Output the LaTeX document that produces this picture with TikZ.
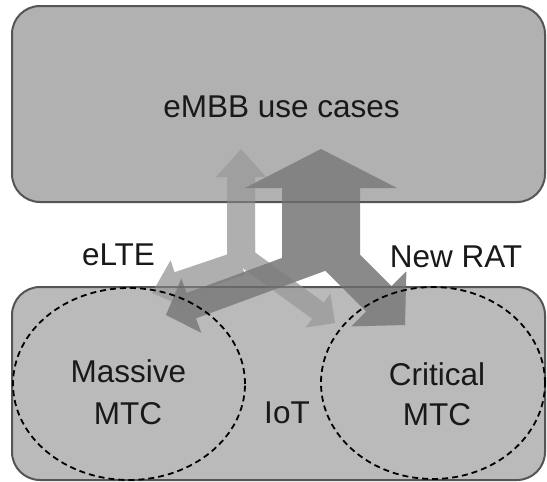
\documentclass[tikz,border=0pt]{standalone}
\usepackage{fontspec}
\setmainfont{Liberation Sans}
\usetikzlibrary{calc}
\definecolor{topfill}{RGB}{177,177,177}
\definecolor{botfill}{RGB}{186,186,186}
\definecolor{boxline}{RGB}{85,85,85}
\definecolor{lightarr}{RGB}{155,155,155}
\definecolor{darkarr}{RGB}{126,126,126}
\definecolor{txt}{RGB}{25,25,25}
% #1 start, #2 tip, #3 half shaft width, #4 half head width, #5 head length
\newcommand\blockarr[5]{%
  \coordinate (S) at #1; \coordinate (T) at #2;
  \coordinate (H) at ($(T)!#5!(S)$);
  \fill ($(S)!#3!90:(T)$) -- ($(H)!#3!90:(T)$) -- ($(H)!#4!90:(T)$) -- (T)
     -- ($(H)!#4!-90:(T)$) -- ($(H)!#3!-90:(T)$) -- ($(S)!#3!-90:(T)$) -- cycle;}
\begin{document}
\begin{tikzpicture}[x=1pt,y=-1pt,
  box/.style={draw=boxline,line width=2pt,rounded corners=28pt},
  zone/.style={draw=black,line width=1.8pt,dash pattern=on 6pt off 4pt},
  lbl/.style={font=\fontsize{31.5}{36}\selectfont,text=txt,anchor=base,inner sep=0pt}]
\useasboundingbox (0,0) rectangle (547,482);
\fill[white] (0,0) rectangle (547,482);
% boxes
\path[box,fill=topfill] (12,6) rectangle (545,202);
\path[box,fill=botfill] (12,287) rectangle (545,480);
\node[lbl] (embb) at (281.5,117) {eMBB use cases};
% light (eLTE) arrows
\begin{scope}[transparency group,opacity=0.8]
  \fill[lightarr] (227,262) rectangle (255,240);
  \begin{scope}[fill=lightarr]
  \blockarr{(241,262)}{(241,149)}{14pt}{25pt}{28pt}
  \blockarr{(241,263)}{(152,293)}{12.5pt}{25pt}{28pt}
  \blockarr{(243,256)}{(335,323)}{10pt}{21pt}{21pt}
  \end{scope}
\end{scope}
% dark (New RAT) arrows
\begin{scope}[transparency group,opacity=0.9]
  \begin{scope}[fill=darkarr]
  \blockarr{(321,262)}{(321,149)}{39pt}{76pt}{39pt}
  \blockarr{(321,258)}{(166,315)}{13.5pt}{29pt}{27pt}
  \blockarr{(328,248)}{(405,325)}{18pt}{39pt}{37pt}
  \end{scope}
\end{scope}
% borders redrawn faintly over arrows
\draw[boxline,line width=2pt,opacity=0.45] (200,202) -- (420,202);
\draw[boxline,line width=2pt,opacity=0.45] (130,287) -- (420,287);
% zones
\draw[zone] (129,384) ellipse [x radius=116pt, y radius=96pt];
\draw[zone] (433,383) ellipse [x radius=112pt, y radius=96pt];
% labels
\node[lbl] (elte) at (118.5,265) {eLTE};
\node[lbl] (newrat) at (456,267) {New RAT};
\node[lbl] (mm1) at (128.5,382) {Massive};
\node[lbl] (mm2) at (128,424) {MTC};
\node[lbl] (cm1) at (437,385) {Critical};
\node[lbl] (cm2) at (437,425) {MTC};
\node[lbl] (iot) at (287,423) {IoT};
\end{tikzpicture}
\end{document}
